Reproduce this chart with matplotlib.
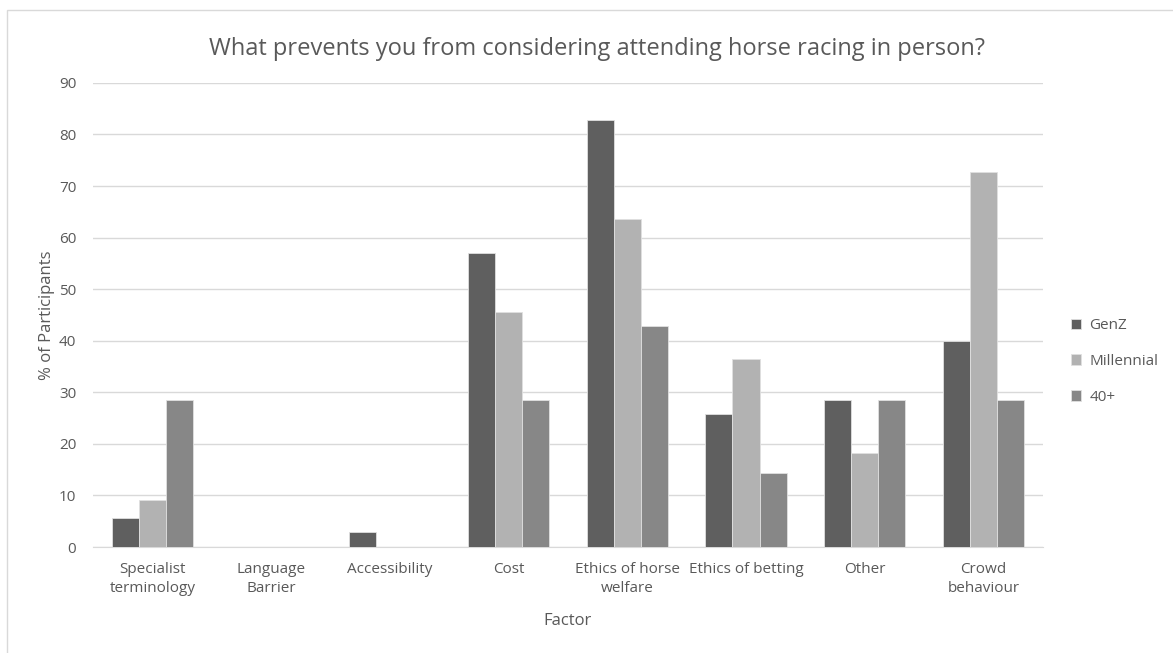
import matplotlib.pyplot as plt
import numpy as np
from matplotlib.patches import Rectangle

plt.rcParams['font.family'] = ['Open Sans', 'DejaVu Sans']

factors = ['Specialist\nterminology', 'Language\nBarrier', 'Accessibility', 'Cost',
           'Ethics of horse\nwelfare', 'Ethics of betting', 'Other', 'Crowd\nbehaviour']
genz = [5.7, 0, 2.9, 57.1, 82.9, 25.7, 28.6, 40.0]
millennial = [9.1, 0, 0, 45.5, 63.6, 36.4, 18.2, 72.7]
forty_plus = [28.6, 0, 0, 28.6, 42.9, 14.3, 28.6, 28.6]

series = [('GenZ', genz, '#5f5f5f'),
          ('Millennial', millennial, '#b2b2b2'),
          ('40+', forty_plus, '#878787')]

fig = plt.figure(figsize=(11.73, 6.53), dpi=100)
ax = fig.add_axes([0.0793, 0.1623, 0.8097, 0.7107])

# outer chart border (only left/top visible in the crop)
fig.patches.append(Rectangle((7 / 1173, -0.1), 1.2, 1 - 10 / 653 + 0.1,
                             transform=fig.transFigure, fill=False,
                             edgecolor='#d9d9d9', linewidth=1))

x = np.arange(len(factors))
w = 0.228
for i, (name, vals, col) in enumerate(series):
    ax.bar(x + (i - 1) * w, vals, w, color=col, edgecolor='#e0e0e0',
           linewidth=0.6, label=name, zorder=3)

ax.set_xlim(-0.5, len(factors) - 0.5)
ax.set_ylim(0, 90)
ax.set_yticks(range(0, 91, 10))
ax.set_xticks(x)
ax.set_xticklabels(factors, fontsize=11, color='#595959', linespacing=1.35)
ax.tick_params(axis='y', labelsize=11, colors='#595959', length=0, pad=12)
ax.tick_params(axis='x', length=0, pad=11)
ax.grid(axis='y', color='#d9d9d9', linewidth=1, zorder=0)
for s in ['top', 'right', 'left']:
    ax.spines[s].set_visible(False)
ax.spines['bottom'].set_color('#d9d9d9')

ax.set_title('What prevents you from considering attending horse racing in person?',
             fontsize=17, color='#595959', pad=20, x=0.531)
ax.set_xlabel('Factor', fontsize=12, color='#595959', labelpad=12)
ax.set_ylabel('% of Participants', fontsize=12, color='#595959', labelpad=3)

ax.legend(loc='center left', bbox_to_anchor=(1.015, 0.40), frameon=False,
          fontsize=11, labelcolor='#595959', handlelength=0.7, handleheight=0.7,
          labelspacing=1.35, handletextpad=0.5)

fig.savefig('out.png', dpi=100)
